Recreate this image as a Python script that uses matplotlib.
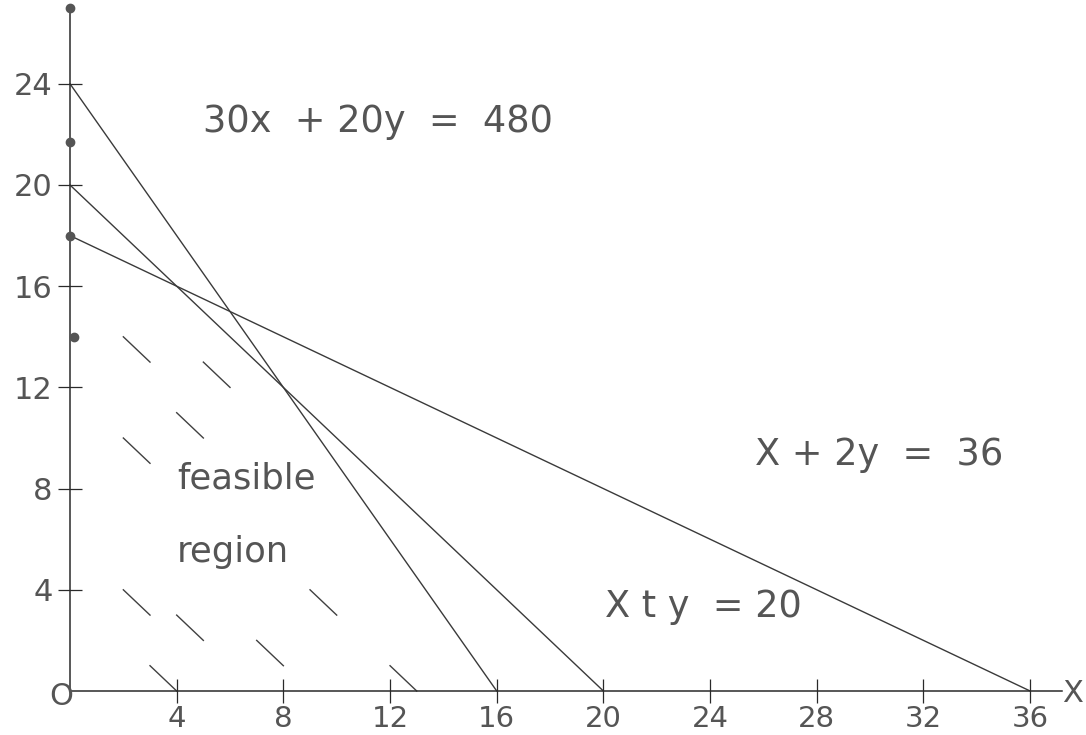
import matplotlib
matplotlib.use("Agg")
import matplotlib.pyplot as plt
import numpy as np

# ---- data ----
# constraint lines given by their intercepts (x-intercept, y-intercept)
line_labels = ["30x  + 20y  =  480", "X t y  = 20", "X + 2y  =  36"]
x_intercepts = [16, 20, 36]
y_intercepts = [24, 20, 18]

# short hatch strokes marking the feasible region (start points; each goes +1, -1)
hatch_x = [2, 5, 4, 2, 2, 4, 7, 9, 3, 12]
hatch_y = [14, 13, 11, 10, 4, 3, 2, 4, 1, 1]

# dots drawn on the y axis
dot_x = [0, 0, 0, 0.15]
dot_y = [27, 21.7, 18, 14]

x_ticks = [4, 8, 12, 16, 20, 24, 28, 32, 36]
y_ticks = [4, 8, 12, 16, 20, 24]

# ---- figure ----
W, H = 1086, 735
fig = plt.figure(figsize=(W / 100, H / 100), dpi=100)
ax = fig.add_axes([0, 0, 1, 1])
ax.set_facecolor("white")

kx, ky = 26.67, 25.3       # pixels per data unit
x0px, y0px = 70, 735 - 691  # origin location in pixels (from left / bottom)
ax.set_xlim(-x0px / kx, (W - x0px) / kx)
ax.set_ylim(-y0px / ky, (H - y0px) / ky)

line_col = "#3a3a3a"
text_col = "#555555"

# constraint lines
for xi, yi in zip(x_intercepts, y_intercepts):
    ax.plot([0, xi], [yi, 0], color=line_col, lw=1.0, solid_capstyle="round")

# hatch strokes
for hx, hy in zip(hatch_x, hatch_y):
    ax.plot([hx, hx + 1], [hy, hy - 1], color="#404040", lw=1.0)

# dots on y axis
ax.plot(dot_x, dot_y, "o", color="#555555", ms=6, zorder=5)

# axes as spines through the origin
for s in ["top", "right"]:
    ax.spines[s].set_visible(False)
ax.spines["left"].set_position(("data", 0))
ax.spines["bottom"].set_position(("data", 0))
ax.spines["left"].set_bounds(0, 27)
ax.spines["bottom"].set_bounds(0, 37.2)
for s in ["left", "bottom"]:
    ax.spines[s].set_color("#2a2a2a")
    ax.spines[s].set_linewidth(1.1)

ax.set_xticks(x_ticks)
ax.set_yticks(y_ticks)
ax.set_xticklabels([str(t) for t in x_ticks])
ax.set_yticklabels([str(t) for t in y_ticks])
ax.tick_params(axis="both", direction="inout", length=17, width=0.9,
               color="#2a2a2a", labelcolor=text_col)
ax.tick_params(axis="y", labelsize=22, pad=4)
ax.tick_params(axis="x", labelsize=21, pad=1.4)

# annotations
fs = 26.5
ax.text(4.99, 22.1, line_labels[0], fontsize=fs, color=text_col, ha="left", va="baseline")
ax.text(25.68, 8.93, line_labels[2], fontsize=fs, color=text_col, ha="left", va="baseline")
ax.text(20.06, 2.92, line_labels[1], fontsize=fs, color=text_col, ha="left", va="baseline")
ax.text(4.01, 8.02, "feasible", fontsize=25.5, color=text_col, ha="left", va="baseline")
ax.text(4.01, 5.1, "region", fontsize=25.5, color=text_col, ha="left", va="baseline")
ax.text(-0.34, -0.2, "O", fontsize=22, color=text_col, ha="center", va="center")
ax.text(37.6, -0.08, "X", fontsize=22, color=text_col, ha="center", va="center")

fig.savefig("out.png", dpi=100, facecolor="white")
